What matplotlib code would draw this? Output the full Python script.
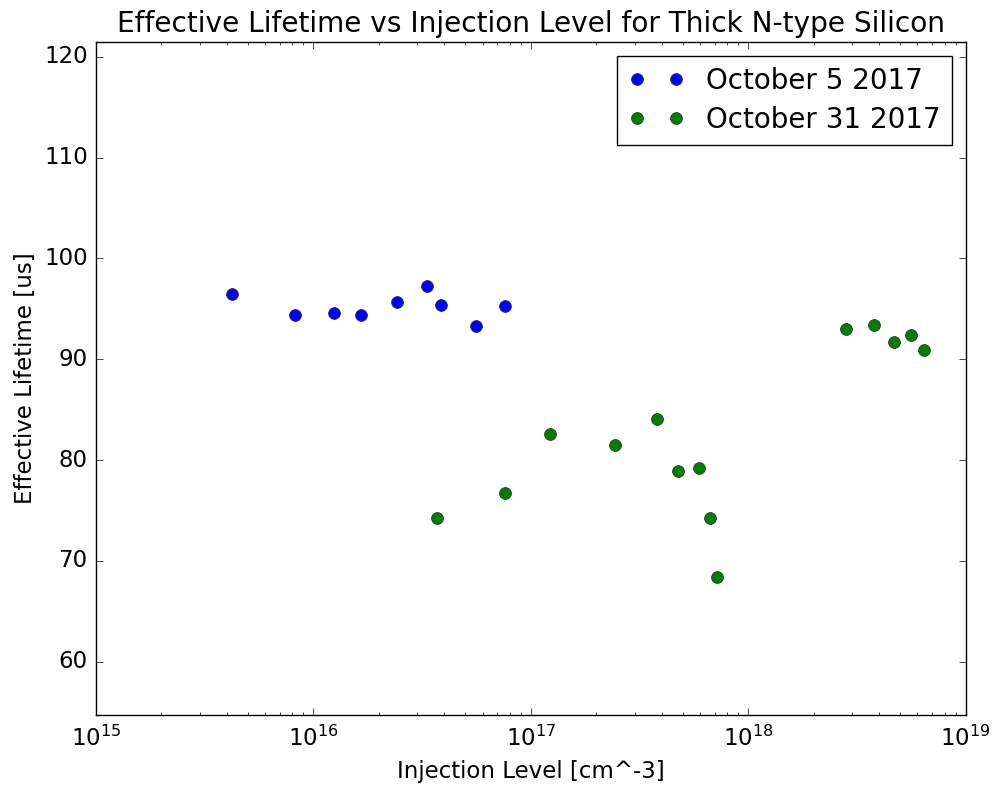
import matplotlib
matplotlib.use('Agg')
import matplotlib.pyplot as plt

# measurements, injection level in cm^-3 and lifetime in microseconds
oct5_injection = [4.21e15, 8.23e15, 1.245e16, 1.65e16, 2.43e16, 3.32e16, 3.85e16, 5.58e16, 7.6e16]
oct5_lifetime = [96.5, 94.4, 94.55, 94.4, 95.65, 97.3, 95.4, 93.3, 95.25]

oct31_injection = [3.69e16, 7.64e16, 1.225e17, 2.43e17, 3.8e17, 4.74e17, 5.92e17, 6.67e17, 7.19e17,
                   2.82e18, 3.79e18, 4.67e18, 5.59e18, 6.46e18]
oct31_lifetime = [74.2, 76.7, 82.55, 81.45, 84.1, 78.95, 79.2, 74.2, 68.35,
                  93.0, 93.4, 91.75, 92.45, 90.9]

plt.style.use('classic')
plt.rcParams['figure.facecolor'] = 'white'
plt.rcParams['savefig.facecolor'] = 'white'
plt.rcParams['xtick.labelsize'] = 16.5
plt.rcParams['ytick.labelsize'] = 16.5
plt.rcParams['xtick.major.size'] = 5
plt.rcParams['ytick.major.size'] = 5
plt.rcParams['xtick.minor.size'] = 2.5
plt.rcParams['ytick.minor.size'] = 2.5
plt.rcParams['xtick.major.pad'] = 8
plt.rcParams['ytick.major.pad'] = 6

fig = plt.figure(figsize=(9.92, 7.9), dpi=100)
ax = fig.add_axes([0.0968, 0.0949, 0.8767, 0.8523])

ax.plot(oct5_injection, oct5_lifetime, 'o', color='b', markersize=8.5,
        markeredgewidth=0.6, markeredgecolor='#333333', label='October 5 2017')
ax.plot(oct31_injection, oct31_lifetime, 'o', color='g', markersize=8.5,
        markeredgewidth=0.6, markeredgecolor='#333333', label='October 31 2017')

ax.set_xscale('log')
ax.set_xlim(1e15, 1e19)
ax.set_ylim(54.7, 121.5)
ax.set_yticks([60, 70, 80, 90, 100, 110, 120])

ax.set_title('Effective Lifetime vs Injection Level for Thick N-type Silicon', fontsize=20.2, pad=7)
ax.set_xlabel('Injection Level [cm^-3]', fontsize=16.5, labelpad=6)
ax.set_ylabel('Effective Lifetime [us]', fontsize=16.5)

leg = ax.legend(loc='upper right', numpoints=2, fontsize=20, fancybox=False,
                borderaxespad=0.5, labelspacing=0.4)
leg.get_frame().set_linewidth(1.0)

fig.savefig('out.png', dpi=100)
